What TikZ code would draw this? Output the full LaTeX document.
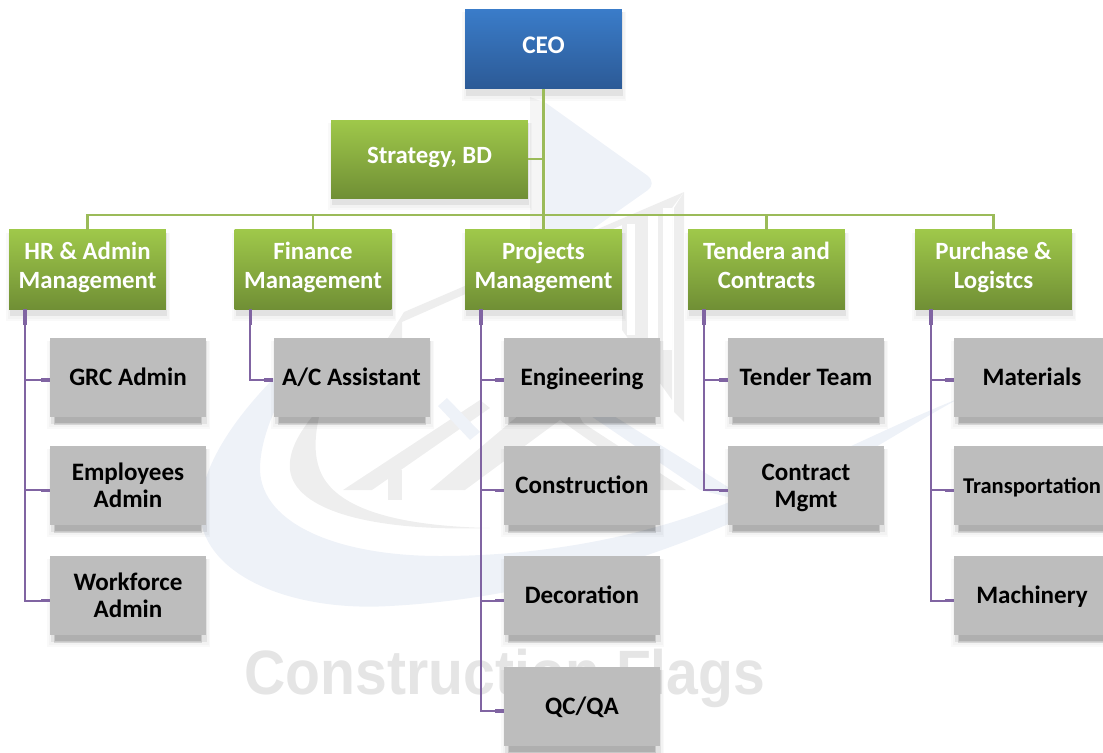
\documentclass[tikz,border=0pt]{standalone}
\usepackage{fontspec}
\setmainfont{Carlito}
\newfontfamily\wmfont{Liberation Sans}
\usetikzlibrary{calc}
\definecolor{wmblue}{HTML}{EEF2F8}
\definecolor{wmgrey}{HTML}{EEEEEE}
\definecolor{wmtext}{HTML}{E5E5E5}
\definecolor{greentop}{HTML}{9FC84A}
\definecolor{greenmid}{HTML}{8CAE42}
\definecolor{greenbot}{HTML}{708F35}
\definecolor{bluetop}{HTML}{3A7CC9}
\definecolor{bluemid}{HTML}{336DB0}
\definecolor{bluebot}{HTML}{2C5A96}
\definecolor{greybox}{HTML}{BDBDBD}
\definecolor{greenline}{HTML}{9BBB59}
\definecolor{purpleline}{HTML}{8064A2}
\tikzset{
  boxbase/.style={inner sep=0pt,align=center,minimum width=117.5pt,minimum height=59.5pt},
  ceobox/.style={boxbase,top color=bluetop,middle color=bluemid,bottom color=bluebot,text=white,font=\fontsize{19}{21.75}\selectfont\bfseries},
  greenbox/.style={boxbase,top color=greentop,middle color=greenmid,bottom color=greenbot,text=white,font=\fontsize{18.6}{21.75}\selectfont\bfseries},
  greybase/.style={inner sep=0pt,align=center,minimum width=117pt,minimum height=59.5pt,fill=greybox,text=black,font=\fontsize{18.8}{20.25}\selectfont\bfseries},
  greenconn/.style={draw=greenline,line width=1.9pt},
  purpleconn/.style={draw=purpleline,line width=1.5pt},
  purplestub/.style={draw=purpleline,line width=2.4pt},
  wma/.style={fill=wmblue,draw=none},
  wmb/.style={fill=wmgrey,draw=none},
  softfill/.style={fill=black,opacity=.025,draw=none},
  midfill/.style={fill=black,opacity=.07,draw=none},
  darkfill/.style={fill=black,opacity=.12,draw=none},
}
% text lines with a fixed height and depth, so every box centres alike
\newcommand{\gl}[1]{\raisebox{0pt}[12pt][5pt]{#1}}
\newcommand{\gy}[1]{\raisebox{0pt}[12pt][0pt]{#1}}
% soft shadow under a coloured box: centre x, centre y, half width, half height
\newcommand{\softshadow}[4]{%
  \fill[softfill] ({#1-#3-3},{#2-#4+3}) rectangle ({#1+#3+4},{#2+#4+12});
  \fill[softfill] ({#1-#3-1},{#2-#4+3}) rectangle ({#1+#3+3},{#2+#4+10});
  \fill[midfill] ({#1-#3+1},{#2-#4+3}) rectangle ({#1+#3+1},{#2+#4+7});
}
% shadow under a grey box: denser band at the foot
\newcommand{\greyshadow}[2]{%
  \softshadow{#1}{#2}{78}{39.7}%
  \fill[darkfill] ({#1-74},{#2}) rectangle ({#1+74},{#2+47});
  \fill[darkfill] ({#1-73},{#2}) rectangle ({#1+73},{#2+45});
}
% connector from a manager box to a child box; #3 = drop below the child's centre
\newcommand{\conn}[3]{%
  \draw[purpleconn] ([xshift=12pt]#1.south west) |- ([yshift=-#3pt]#2.west);
  \draw[purplestub] ([xshift=12pt]#1.south west) -- ++(0,16);
  \draw[purplestub] ([yshift=-#3pt]#2.west) -- ++(-9,0);
}
\begin{document}
\begin{tikzpicture}[x=0.75pt,y=-0.75pt]
\useasboundingbox (0,0) rectangle (1103,753);
\clip (0,0) rectangle (1103,753);
% --- watermark ---
\fill[wmgrey!60] (530,97) -- (546,103) -- (546,240) -- (530,240) -- cycle;
\fill[wma] (546,103) -- (648,176) .. controls (653,181) and (653,186) .. (648,190) -- (560,252) -- (546,252) -- cycle;
% blue swoosh
\fill[wma] (315,340) .. controls (250,395) and (198,460) .. (200,515)
  .. controls (205,575) and (290,612) .. (390,606)
  .. controls (540,598) and (680,550) .. (780,500)
  .. controls (850,465) and (910,425) .. (960,398)
  .. controls (900,422) and (840,452) .. (727,503)
  .. controls (640,538) and (540,556) .. (440,556)
  .. controls (340,556) and (262,525) .. (260,470)
  .. controls (260,430) and (285,385) .. (315,340) -- cycle;
% grey crescent
\fill[wmb] (322,405) .. controls (300,430) and (288,450) .. (290,470)
  .. controls (295,510) and (370,532) .. (490,528)
  .. controls (400,526) and (340,510) .. (322,475)
  .. controls (312,455) and (315,430) .. (322,405) -- cycle;
% grey roof and building
\fill[wmb] (684,192) -- (684,422) -- (674,412) -- (674,208) -- cycle;
\fill[wmb] (684,192) -- (404,312) -- (388,338) -- (402,338) -- (402,322) -- (622,225) -- (622,330) -- (672,400) -- (672,208) -- cycle;
\fill[white] (627,224) rectangle (635,335);
\fill[white] (648,214) rectangle (658,345);
\fill[white] (663,208) rectangle (672,350);
\fill[wmb] (343,490) -- (480,400) -- (490,408) -- (372,490) -- cycle;
\fill[wmb] (388,470) -- (402,470) -- (402,500) -- (388,500) -- cycle;
\fill[wmb] (430,490) -- (525,410) -- (540,380) -- (560,380) -- (583,423) -- (686,490) -- (660,490) -- (560,420) -- (465,490) -- cycle;
\fill[wma] (447,398) -- (480,432) -- (470,440) -- (438,406) -- cycle;
\fill[wma] (560,395) -- (580,395) -- (728,487) -- (728,497) -- (700,490) -- cycle;
\node[anchor=base,text=wmtext,inner sep=0pt,font=\fontsize{47}{50}\selectfont\wmfont\bfseries,xscale=.912] (wm) at (505,694) {Construction Flags};
% --- shadows ---
\softshadow{543.5}{49}{78.5}{40}
\softshadow{429.5}{159}{98.5}{39}
\foreach \cx in {87.5,313,543.5,766.5,993.5} {\softshadow{\cx}{269.5}{78.5}{39.7}}
\foreach \cx/\cy in {128/377.5,128/485.5,128/595.5,351.5/377.5,582/377.5,582/485.5,582/595.5,582/706.5,806/377.5,806/485.5,1032/377.5,1032/485.5,1032/595.5} {\greyshadow{\cx}{\cy}}
% --- boxes ---
\node[ceobox] (ceo) at (543.5,49) {\gl{CEO}};
\node[greenbox,minimum width=147.5pt,minimum height=58.5pt] (strat) at (429.5,159) {\gl{Strategy, BD}};
\node[greenbox] (hr) at (87.5,269.5) {\gl{HR \& Admin}\\\gl{Management}};
\node[greenbox] (fin) at (313,269.5) {\gl{Finance}\\\gl{Management}};
\node[greenbox] (proj) at (543.5,269.5) {\gl{Projects}\\\gl{Management}};
\node[greenbox] (tend) at (766.5,269.5) {\gl{Tendera and}\\\gl{Contracts}};
\node[greenbox] (pur) at (993.5,269.5) {\gl{Purchase \&}\\\gl{Logistcs}};
\node[greybase] (grc) at (128,377.5) {\gy{GRC Admin}};
\node[greybase] (emp) at (128,485.5) {\gy{Employees}\\\gy{Admin}};
\node[greybase] (work) at (128,595.5) {\gy{Workforce}\\\gy{Admin}};
\node[greybase] (ac) at (351.5,377.5) {\gy{A/C Assistant}};
\node[greybase] (eng) at (582,377.5) {\gy{Engineering}};
\node[greybase] (con) at (582,485.5) {\gy{Construction}};
\node[greybase] (dec) at (582,595.5) {\gy{Decoration}};
\node[greybase] (qc) at (582,706.5) {\gy{QC/QA}};
\node[greybase] (tt) at (806,377.5) {\gy{Tender Team}};
\node[greybase] (cm) at (806,485.5) {\gy{Contract}\\\gy{Mgmt}};
\node[greybase] (mat) at (1032,377.5) {\gy{Materials}};
\node[greybase,font=\fontsize{16.9}{20}\selectfont\bfseries] (tran) at (1032,485.5) {\gy{Transportation}};
\node[greybase] (mach) at (1032,595.5) {\gy{Machinery}};
% --- connectors ---
\coordinate (bus) at (ceo.south |- 0,215);
\draw[greenconn] (ceo.south) -- (proj.north);
\draw[greenconn] (strat.east) -- (strat.east -| ceo.south);
\draw[greenconn] (bus) -| (hr.north);
\draw[greenconn] (bus) -| (fin.north);
\draw[greenconn] (bus) -| (tend.north);
\draw[greenconn] (bus) -| (pur.north);
\conn{hr}{grc}{1.9}\conn{hr}{emp}{3.6}\conn{hr}{work}{3.8}
\conn{fin}{ac}{1.9}
\conn{proj}{eng}{1.9}\conn{proj}{con}{3.6}\conn{proj}{dec}{3.8}\conn{proj}{qc}{3.4}
\conn{tend}{tt}{1.9}\conn{tend}{cm}{3.6}
\conn{pur}{mat}{1.9}\conn{pur}{tran}{3.6}\conn{pur}{mach}{3.8}
\end{tikzpicture}
\end{document}
